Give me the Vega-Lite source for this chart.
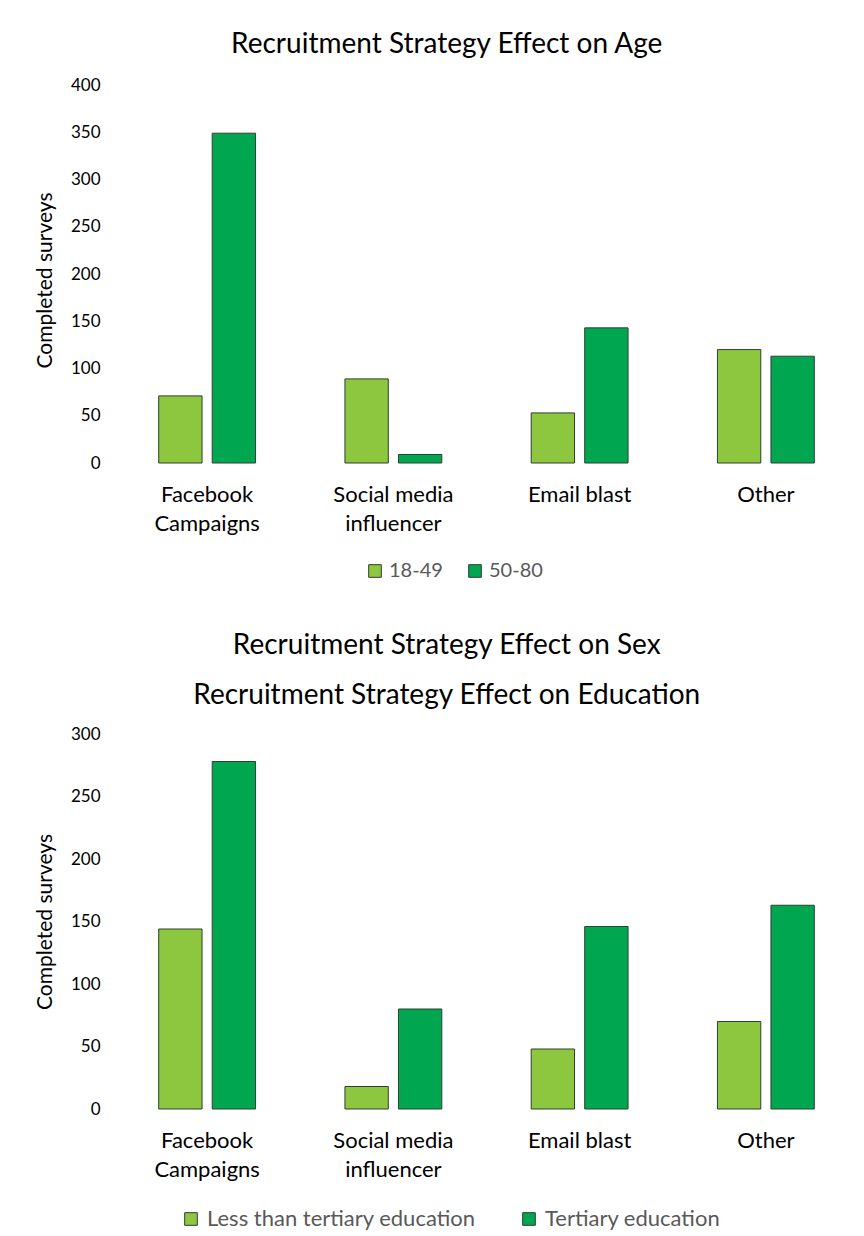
{
  "$schema": "https://vega.github.io/schema/vega-lite/v6.json",
  "background": "white",
  "padding": {"left": 34, "top": 31, "right": 0, "bottom": 0},
  "config": {
    "font": "Lato",
    "view": {"stroke": null},
    "axis": {"domain": false, "ticks": false, "grid": false}
  },
  "datasets": {
    "age": [
      {"strategy": "Facebook Campaigns", "group": "18-49", "surveys": 71},
      {"strategy": "Facebook Campaigns", "group": "50-80", "surveys": 349},
      {"strategy": "Social media influencer", "group": "18-49", "surveys": 89},
      {"strategy": "Social media influencer", "group": "50-80", "surveys": 9},
      {"strategy": "Email blast", "group": "18-49", "surveys": 53},
      {"strategy": "Email blast", "group": "50-80", "surveys": 143},
      {"strategy": "Other", "group": "18-49", "surveys": 120},
      {"strategy": "Other", "group": "50-80", "surveys": 113}
    ],
    "education": [
      {"strategy": "Facebook Campaigns", "group": "Less than tertiary education", "surveys": 144},
      {"strategy": "Facebook Campaigns", "group": "Tertiary education", "surveys": 278},
      {"strategy": "Social media influencer", "group": "Less than tertiary education", "surveys": 18},
      {"strategy": "Social media influencer", "group": "Tertiary education", "surveys": 80},
      {"strategy": "Email blast", "group": "Less than tertiary education", "surveys": 48},
      {"strategy": "Email blast", "group": "Tertiary education", "surveys": 146},
      {"strategy": "Other", "group": "Less than tertiary education", "surveys": 70},
      {"strategy": "Other", "group": "Tertiary education", "surveys": 163}
    ]
  },
  "resolve": {
    "scale": {"x": "independent", "y": "independent", "color": "independent", "xOffset": "independent"},
    "legend": {"color": "independent"}
  },
  "spacing": 51,
  "vconcat": [
    {
      "data": {"name": "age"},
      "title": {"text": "Recruitment Strategy Effect on Age", "fontSize": 28, "fontWeight": "normal", "color": "#000000", "frame": "bounds", "anchor": "middle", "offset": 17},
      "width": 745,
      "height": 378,
      "mark": {"type": "bar", "stroke": "#2F3F2F", "strokeWidth": 1},
      "encoding": {
        "x": {
          "field": "strategy", "type": "nominal",
          "sort": ["Facebook Campaigns", "Social media influencer", "Email blast", "Other"],
          "scale": {"paddingInner": 0.48, "paddingOuter": 0.24},
          "axis": {"title": null, "labelAngle": 0, "labelFontSize": 22, "labelColor": "#000000", "labelPadding": 21, "labelLineHeight": 29,
            "labelExpr": "datum.label == 'Facebook Campaigns' ? ['Facebook', 'Campaigns'] : datum.label == 'Social media influencer' ? ['Social media', 'influencer'] : datum.label"}
        },
        "xOffset": {"field": "group", "type": "nominal", "sort": ["18-49", "50-80"], "scale": {"paddingInner": 0.19}},
        "y": {
          "field": "surveys", "type": "quantitative",
          "scale": {"domain": [0, 400], "nice": false},
          "axis": {"values": [0, 50, 100, 150, 200, 250, 300, 350, 400], "title": "Completed surveys", "titleFontSize": 21, "titleFontWeight": "normal", "titleColor": "#000000", "titleY": 195, "labelFontSize": 17, "labelColor": "#000000", "labelPadding": 14, "titlePadding": 15}
        },
        "color": {
          "field": "group", "type": "nominal",
          "scale": {"domain": ["18-49", "50-80"], "range": ["#8DC63F", "#00A650"]},
          "legend": {"title": null, "orient": "none", "legendX": 251, "legendY": 476, "direction": "horizontal", "labelFontSize": 20, "labelColor": "#595959", "labelLimit": 0, "symbolType": "square", "symbolSize": 160, "symbolStrokeColor": "#2F3F2F", "symbolStrokeWidth": 1, "columnPadding": 22, "labelOffset": 4}
        }
      }
    },
    {
      "data": {"name": "education"},
      "title": {"text": ["Recruitment Strategy Effect on Sex", "Recruitment Strategy Effect on Education"], "lineHeight": 50, "fontSize": 28, "fontWeight": "normal", "color": "#000000", "frame": "bounds", "anchor": "middle", "offset": 15},
      "width": 745,
      "height": 375,
      "mark": {"type": "bar", "stroke": "#2F3F2F", "strokeWidth": 1},
      "encoding": {
        "x": {
          "field": "strategy", "type": "nominal",
          "sort": ["Facebook Campaigns", "Social media influencer", "Email blast", "Other"],
          "scale": {"paddingInner": 0.48, "paddingOuter": 0.24},
          "axis": {"title": null, "labelAngle": 0, "labelFontSize": 22, "labelColor": "#000000", "labelPadding": 21, "labelLineHeight": 29,
            "labelExpr": "datum.label == 'Facebook Campaigns' ? ['Facebook', 'Campaigns'] : datum.label == 'Social media influencer' ? ['Social media', 'influencer'] : datum.label"}
        },
        "xOffset": {"field": "group", "type": "nominal", "sort": ["Less than tertiary education", "Tertiary education"], "scale": {"paddingInner": 0.19}},
        "y": {
          "field": "surveys", "type": "quantitative",
          "scale": {"domain": [0, 300], "nice": false},
          "axis": {"values": [0, 50, 100, 150, 200, 250, 300], "title": "Completed surveys", "titleFontSize": 21, "titleFontWeight": "normal", "titleColor": "#000000", "labelFontSize": 17, "labelColor": "#000000", "labelPadding": 14, "titlePadding": 15}
        },
        "color": {
          "field": "group", "type": "nominal",
          "scale": {"domain": ["Less than tertiary education", "Tertiary education"], "range": ["#8DC63F", "#00A650"]},
          "legend": {"title": null, "orient": "none", "legendX": 66, "legendY": 474, "direction": "horizontal", "labelFontSize": 22, "labelColor": "#595959", "labelLimit": 0, "symbolType": "square", "symbolSize": 160, "symbolStrokeColor": "#2F3F2F", "symbolStrokeWidth": 1, "columnPadding": 42, "labelOffset": 5}
        }
      }
    }
  ]
}
